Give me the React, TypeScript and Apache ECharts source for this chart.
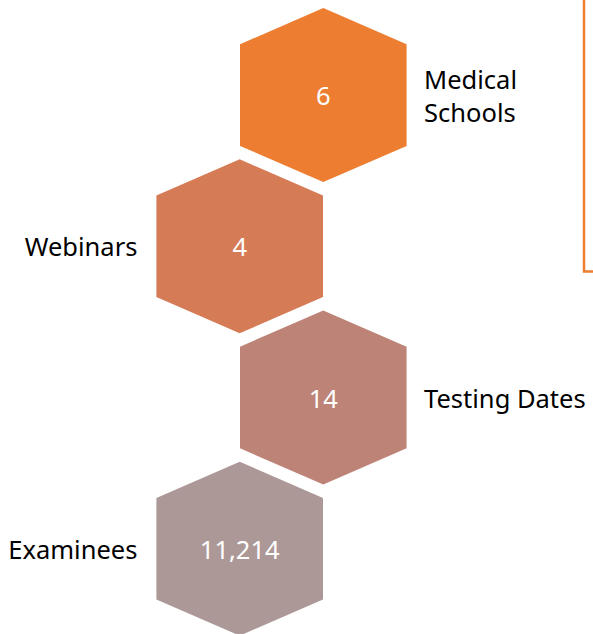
import React, { useEffect, useRef } from "react";
import * as echarts from "echarts";

// Data
const categories = ["Medical Schools", "Webinars", "Testing Dates", "Examinees"];
const values = [6, 4, 14, 11214];
// column of each hexagon (0 = left column, 1 = right column), row = index
const columns = [1, 0, 1, 0];
const colors = ["#ED7D31", "#D57B56", "#BE8377", "#AD9898"];

const FONT = "'Noto Sans', 'Open Sans', sans-serif";
const FS = 25.5;
const HW = 83.3; // half width of hexagon
const HH = 87; // half height
const SH = 50.8; // shoulder offset

export default function App() {
  const ref = useRef<HTMLDivElement>(null);
  useEffect(() => {
    if (!ref.current) return;
    const chart = echarts.init(ref.current, null, { renderer: "svg" });
    const data = columns.map((c, i) => [c, i]);
    chart.setOption({
      animation: false,
      backgroundColor: "#ffffff",
      grid: { left: 239.7, right: 269.7, top: 95.1, bottom: 85.3 },
      xAxis: { type: "value", min: 0, max: 1, show: false },
      yAxis: { type: "value", min: 0, max: 3, inverse: true, show: false },
      graphic: [
        {
          type: "rect",
          shape: { x: 584, y: -20, width: 60, height: 291.5 },
          style: { fill: "none", stroke: "#ED7D31", lineWidth: 2.5 },
          silent: true,
        },
      ],
      series: [
        {
          type: "custom",
          clip: false,
          data,
          renderItem: (params: any, api: any) => {
            const col = api.value(0);
            const row = api.value(1);
            const [cx, cy] = api.coord([col, row]);
            const idx = params.dataIndex;
            const points = [
              [cx, cy - HH],
              [cx + HW, cy - SH],
              [cx + HW, cy + SH],
              [cx, cy + HH],
              [cx - HW, cy + SH],
              [cx - HW, cy - SH],
            ];
            const right = col === 1;
            return {
              type: "group",
              children: [
                {
                  type: "polygon",
                  shape: { points },
                  style: { fill: colors[idx] },
                },
                {
                  type: "text",
                  style: {
                    text: values[idx].toLocaleString("en-US"),
                    x: cx,
                    y: cy,
                    align: "center",
                    verticalAlign: "middle",
                    fill: "#ffffff",
                    fontSize: FS,
                    fontFamily: FONT,
                  },
                },
                {
                  type: "text",
                  style: {
                    text: categories[idx],
                    x: right ? cx + HW + 17.5 : cx - HW - 19,
                    y: cy,
                    align: right ? "left" : "right",
                    verticalAlign: "middle",
                    width: 168,
                    overflow: "break",
                    lineHeight: 33,
                    fill: "#000000",
                    fontSize: FS,
                    fontFamily: FONT,
                  },
                },
              ],
            };
          },
        },
      ],
    });
    return () => chart.dispose();
  }, []);
  return (
    <div
      ref={ref}
      style={{ position: "absolute", left: 0, top: 0, width: 593, height: 634 }}
    />
  );
}
